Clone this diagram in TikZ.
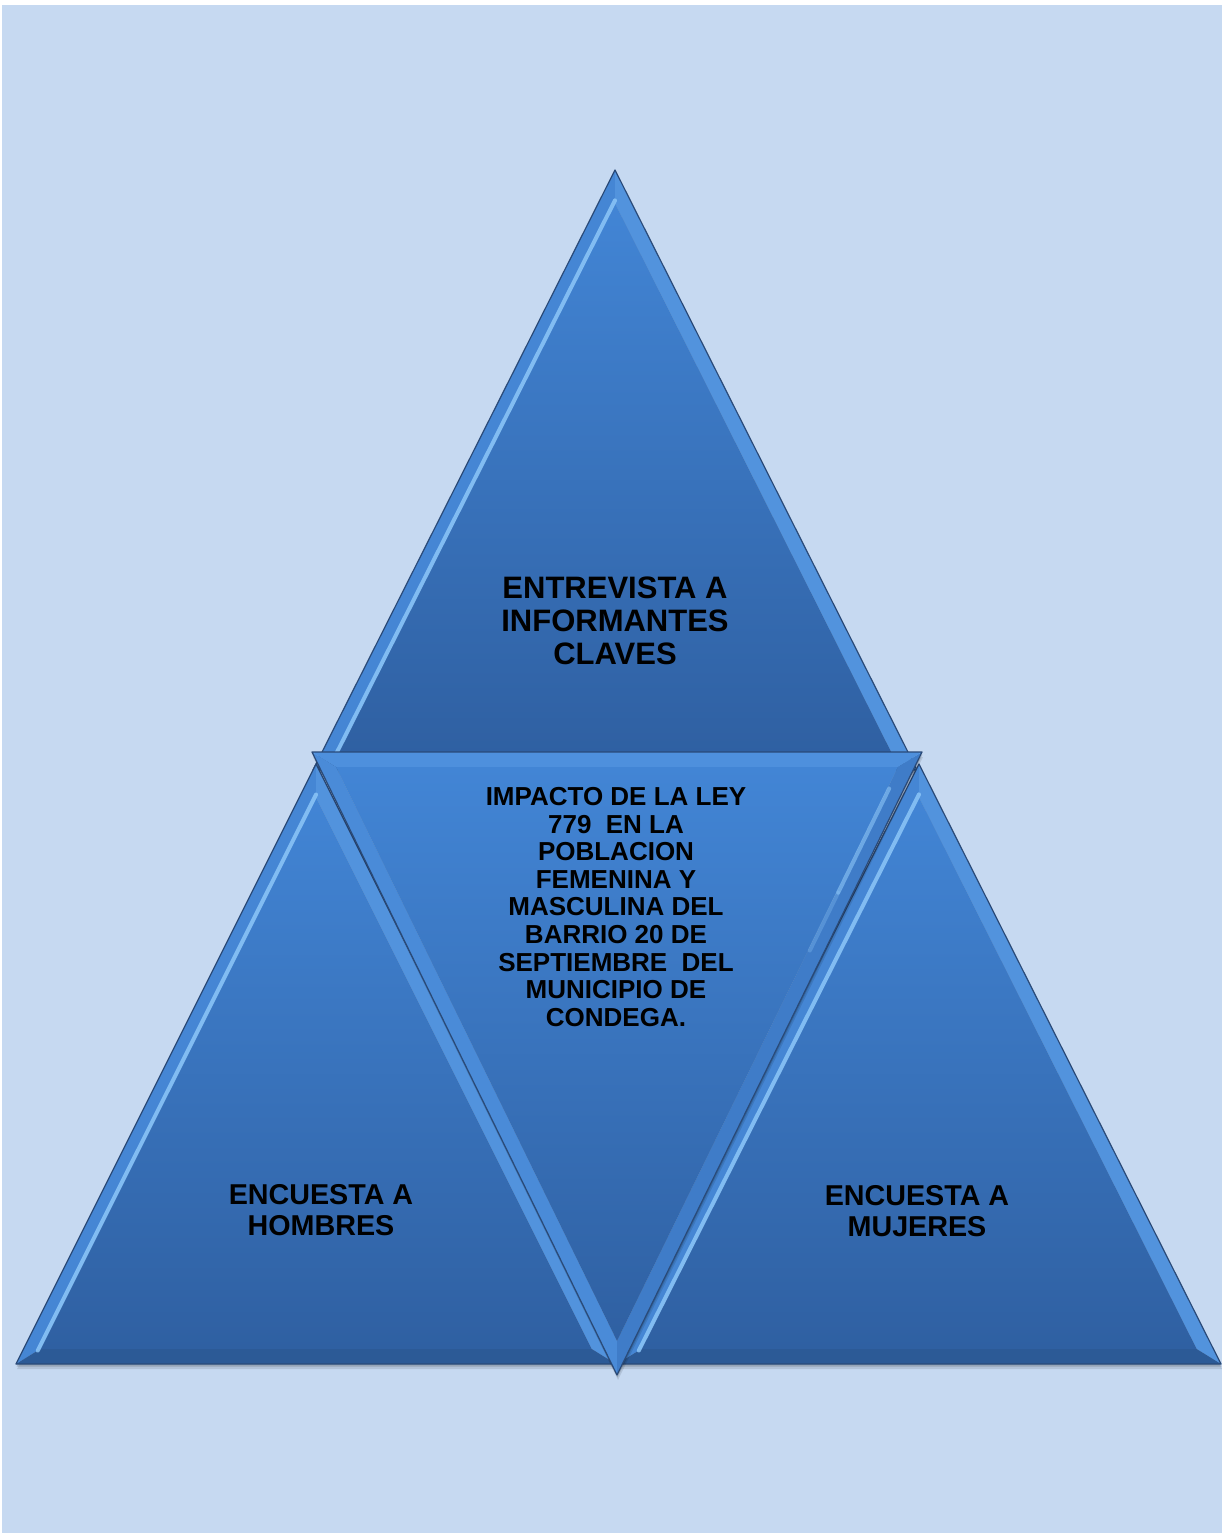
\documentclass[tikz,border=0pt]{standalone}
\usepackage{fontspec}
\setmainfont{Liberation Sans}
\usetikzlibrary{calc}
\definecolor{bg}{HTML}{C6D9F1}
\definecolor{triTop}{HTML}{4285D5}
\definecolor{triBot}{HTML}{2F60A2}
\definecolor{edgec}{HTML}{2A4A78}
\definecolor{hilite}{HTML}{8CC6F8}
\definecolor{upL}{HTML}{4586D4}
\definecolor{upR}{HTML}{5293DD}
\definecolor{upB}{HTML}{2C5A96}
\definecolor{dnL}{HTML}{4A8BD8}
\definecolor{dnR}{HTML}{3F7CC8}
\definecolor{dnT}{HTML}{4E90DD}
\tikzset{
  lbl/.style={align=center, text=black, inner sep=0pt},
  outline/.style={draw=edgec, line width=1.2pt, line join=round},
  shadowc/.style={fill=black, opacity=#1},
  stripe/.style={draw=hilite, line width=4pt, line cap=round, opacity=#1}
}
% #1 apex x, #2 apex y, #3 half base, #4 signed height, #5 name, #6 #7 #8 band colours (AB, AC, BC)
\newcommand\bevtri[8]{%
  \pgfmathsetmacro\hh{abs(#4)}%
  \pgfmathsetmacro\ss{100*sqrt((#3/100)^2+(\hh/100)^2)}%
  \pgfmathsetmacro\rr{#3/(#3+\ss)*\hh}%
  \pgfmathsetmacro\sg{#4/\hh}%
  \pgfmathsetmacro\iy{#2+#4-\sg*\rr}%
  \pgfmathsetmacro\kk{(\rr-15)/\rr}%
  \coordinate (#5A) at (#1,#2);
  \coordinate (#5B) at ({#1-#3},{#2+#4});
  \coordinate (#5C) at ({#1+#3},{#2+#4});
  \coordinate (#5I) at (#1,\iy);
  \coordinate (#5a) at ($(#5I)!\kk!(#5A)$);
  \coordinate (#5b) at ($(#5I)!\kk!(#5B)$);
  \coordinate (#5c) at ($(#5I)!\kk!(#5C)$);
  \fill[shadowc=.10] ($(#5A)+(1,5)$)--($(#5B)+(1,5)$)--($(#5C)+(1,5)$)--cycle;
  \fill[shadowc=.15] ($(#5A)+(0.5,2.5)$)--($(#5B)+(0.5,2.5)$)--($(#5C)+(0.5,2.5)$)--cycle;
  \fill[#6] (#5A)--(#5B)--(#5b)--(#5a)--cycle;
  \fill[#7] (#5A)--(#5C)--(#5c)--(#5a)--cycle;
  \fill[#8] (#5B)--(#5C)--(#5c)--(#5b)--cycle;
  \shade[top color=triTop, bottom color=triBot] (#5a)--(#5b)--(#5c)--cycle;
}
\begin{document}
\begin{tikzpicture}[x=1pt,y=-1pt]
\fill[white] (0,0) rectangle (1225,1533);
\useasboundingbox (0,0) rectangle (1225,1533);
\fill[bg] (2,5) rectangle (1222,1533);

% top triangle
\bevtri{615}{170}{302}{600}{T}{upL}{upR}{upB}
\draw[stripe=.85] ($(Ta)!3pt!(TA)$) -- ($(Tb)!3pt!(TB)$);
\draw[outline] (TA)--(TB)--(TC)--cycle;

% bottom-left triangle
\bevtri{316}{764}{300}{600}{L}{upL}{upR}{upB}
\draw[stripe=.85] ($(La)!3pt!(LA)$) -- ($(Lb)!3pt!(LB)$);
\draw[outline] (LA)--(LB)--(LC)--cycle;

% bottom-right triangle
\bevtri{919}{764}{302}{600}{R}{upL}{upR}{upB}
\draw[stripe=.85] ($(Ra)!3pt!(RA)$) -- ($(Rb)!3pt!(RB)$);
\draw[outline] (RA)--(RB)--(RC)--cycle;

% middle inverted triangle
\bevtri{617}{1375}{305}{-623}{M}{dnL}{dnR}{dnT}
\coordinate (Ms1) at ($(Mc)!3pt!(MC)$);
\coordinate (Ms2) at ($(Ma)!3pt!(MA)$);
\draw[stripe=.6] ($(Ms1)!.04!(Ms2)$) -- ($(Ms1)!.22!(Ms2)$);
\draw[stripe=.3] ($(Ms1)!.22!(Ms2)$) -- ($(Ms1)!.32!(Ms2)$);
\draw[outline] (MA)--(MB)--(MC)--cycle;

% texts
\node[lbl, font=\bfseries\fontsize{31}{33}\selectfont] (top) at (615,621)
  {ENTREVISTA A\\INFORMANTES\\CLAVES};
\node[lbl, font=\bfseries\fontsize{26}{27.6}\selectfont] (mid) at (616,907)
  {IMPACTO DE LA LEY\\779\ \ EN LA\\POBLACION\\FEMENINA Y\\MASCULINA DEL\\BARRIO 20 DE\\SEPTIEMBRE\ \ DEL\\MUNICIPIO DE\\CONDEGA.};
\node[lbl, font=\bfseries\fontsize{28.7}{31}\selectfont] (left) at (321,1210.5)
  {ENCUESTA A\\HOMBRES};
\node[lbl, font=\bfseries\fontsize{28.7}{31}\selectfont] (right) at (917,1211.5)
  {ENCUESTA A\\MUJERES};
\end{tikzpicture}
\end{document}
